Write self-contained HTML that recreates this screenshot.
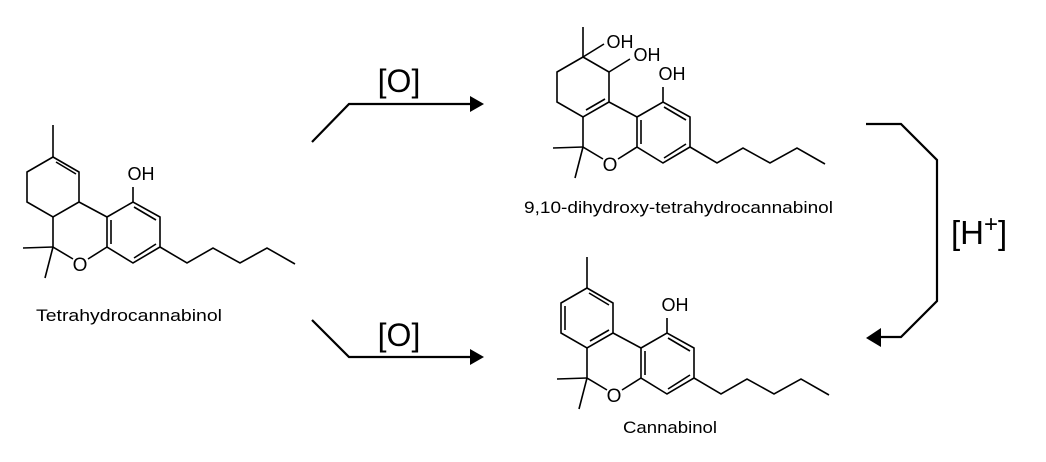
<!DOCTYPE html>
<html><head><meta charset="utf-8"><style>
html,body{margin:0;padding:0;background:#fff;}
svg{display:block;}
text{font-family:"Liberation Sans",Arial,sans-serif;fill:#000;}
</style></head><body>
<svg width="1046" height="462" viewBox="0 0 1046 462" xmlns="http://www.w3.org/2000/svg">
<defs>
<g id="core" fill="none" stroke="#000" stroke-width="1.6">
  <polyline points="107,217 133,202 160,217 160,247 133,263 107,247 107,217"/>
  <line x1="111" y1="220" x2="111" y2="244"/>
  <line x1="134" y1="207" x2="156" y2="220"/>
  <line x1="156" y1="244" x2="134" y2="258"/>
  <line x1="133" y1="202" x2="133" y2="187"/>
  <polyline points="79,202 107,217"/>
  <polyline points="53,217 53,247 73,259"/>
  <polyline points="88,259 107,247"/>
  <line x1="53" y1="247" x2="23" y2="248"/>
  <line x1="53" y1="247" x2="45" y2="278"/>
  <polyline points="160,247 187,263 213,248 240,263 267,248 295,264"/>
</g>
</defs>

<!-- THC -->
<use href="#core"/>
<g fill="none" stroke="#000" stroke-width="1.6">
  <line x1="53" y1="125" x2="53" y2="157"/>
  <polyline points="53,157 79,172 79,202 53,217 27,202 27,172 53,157"/>
  <line x1="56" y1="162" x2="76" y2="174"/>
</g>
<text x="141" y="180" font-size="18" text-anchor="middle">OH</text>
<text x="80" y="271" font-size="19" text-anchor="middle">O</text>
<text x="36" y="321" font-size="17" textLength="186" lengthAdjust="spacingAndGlyphs">Tetrahydrocannabinol</text>

<!-- 9,10-dihydroxy -->
<g transform="translate(530,-100)">
  <use href="#core"/>
  <g fill="none" stroke="#000" stroke-width="1.6">
    <line x1="53" y1="127" x2="53" y2="157"/>
    <polyline points="53,157 79,172 79,202 53,217 27,202 27,172 53,157"/>
    <line x1="75" y1="199" x2="56" y2="210"/>
    <line x1="53" y1="157" x2="74" y2="144"/>
    <line x1="79" y1="172" x2="100" y2="159"/>
  </g>
</g>
<text x="620" y="48" font-size="18" text-anchor="middle">OH</text>
<text x="647" y="61" font-size="18" text-anchor="middle">OH</text>
<text x="672" y="80" font-size="18" text-anchor="middle">OH</text>
<text x="610" y="171" font-size="19" text-anchor="middle">O</text>
<text x="524" y="213" font-size="17" textLength="309" lengthAdjust="spacingAndGlyphs">9,10-dihydroxy-tetrahydrocannabinol</text>

<!-- Cannabinol -->
<g transform="translate(534,131)">
  <use href="#core"/>
  <g fill="none" stroke="#000" stroke-width="1.6">
    <line x1="53" y1="126" x2="53" y2="157"/>
    <polyline points="53,157 79,172 79,202 53,217 27,202 27,172 53,157"/>
    <line x1="55" y1="162" x2="75" y2="174"/>
    <line x1="31" y1="175" x2="31" y2="199"/>
    <line x1="75" y1="199" x2="56" y2="210"/>
  </g>
</g>
<text x="675" y="311" font-size="18" text-anchor="middle">OH</text>
<text x="614" y="402" font-size="19" text-anchor="middle">O</text>
<text x="623" y="433" font-size="17" textLength="94" lengthAdjust="spacingAndGlyphs">Cannabinol</text>

<!-- arrows -->
<g fill="none" stroke="#000" stroke-width="2.2">
  <polyline points="312,142 349,104 471,104"/>
  <polyline points="312,320 349,357 471,357"/>
  <polyline points="866,124 901,124 937,160 937,301 901,337 880,337"/>
</g>
<polygon points="470,96 484,104 470,112" fill="#000"/>
<polygon points="470,349 484,357 470,365" fill="#000"/>
<polygon points="881,328 866,338 881,347" fill="#000"/>
<text x="399" y="92" font-size="32" text-anchor="middle">[O]</text>
<text x="399" y="346" font-size="32" text-anchor="middle">[O]</text>
<text x="951" y="244" font-size="33">[H<tspan font-size="24" dy="-12">+</tspan><tspan font-size="33" dy="12">]</tspan></text>
</svg>
</body></html>
